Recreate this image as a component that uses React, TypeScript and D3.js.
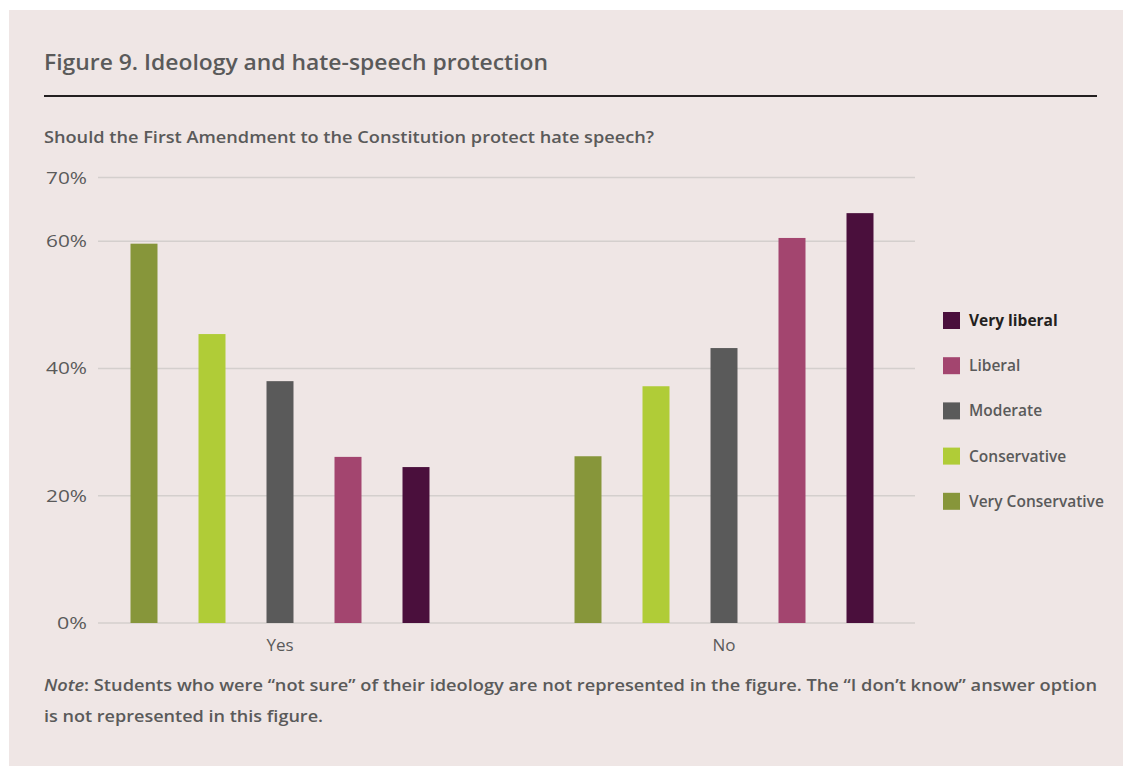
import React from "react";
import * as d3 from "d3";

const answers = ["Yes", "No"];
const ideologies = ["Very Conservative", "Conservative", "Moderate", "Liberal", "Very liberal"];
const colors = ["#87963a", "#b0cc37", "#5a5a5a", "#a3456f", "#4a0f3c"];
const yesValues = [59.6, 45.4, 38.0, 26.1, 24.5];
const noValues = [26.2, 37.2, 43.2, 60.5, 64.4];
const yTicks = [0, 20, 40, 60, 70];
const legendOrder = ["Very liberal", "Liberal", "Moderate", "Conservative", "Very Conservative"];

const W = 1123;
const H = 766;
const FONT = "'Open Sans', 'Noto Sans', sans-serif";

export default function App() {
  const y = d3.scaleLinear().domain([0, 70]).range([623, 177.5]);
  const x0 = d3.scaleBand<string>().domain(answers).range([58, 946]).padding(0);
  const inner = d3
    .scaleBand<string>()
    .domain(ideologies)
    .range([0, 340])
    .paddingInner(0.603)
    .paddingOuter(0.3015);
  const color = d3.scaleOrdinal<string, string>().domain(ideologies).range(colors);
  const series: Record<string, number[]> = { Yes: yesValues, No: noValues };

  const gridX1 = 98;
  const gridX2 = 915;

  return (
    <svg
      width={W}
      height={H}
      style={{ position: "absolute", left: 0, top: 0, display: "block" }}
      fontFamily={FONT}
    >
      <rect x={0} y={0} width={W} height={H} fill="#ffffff" />
      <rect x={9} y={10} width={W - 9} height={H - 10} fill="#efe6e5" />

      <text x={44} y={70} fontSize={22} fontWeight={600} fill="#5a5a5a" textLength={504} lengthAdjust="spacingAndGlyphs">
        Figure 9. Ideology and hate-speech protection
      </text>
      <line x1={44} x2={1097} y1={96} y2={96} stroke="#231f20" strokeWidth={2} />

      <text x={44} y={143} fontSize={16} fontWeight={600} fill="#5a5a5a" textLength={610} lengthAdjust="spacingAndGlyphs">
        Should the First Amendment to the Constitution protect hate speech?
      </text>

      {yTicks.map((t) => (
        <g key={t}>
          <line x1={gridX1} x2={gridX2} y1={y(t)} y2={y(t)} stroke="#d4cfcd" strokeWidth={1.5} />
          <text
            x={87}
            y={y(t) + 6}
            fontSize={17}
            fontWeight={500}
            fill="#5a5a5a"
            textAnchor="end"
            textLength={t === 0 ? 30 : 41}
            lengthAdjust="spacingAndGlyphs"
          >
            {t}%
          </text>
        </g>
      ))}

      {answers.map((a) => {
        const center = (x0(a) as number) + x0.bandwidth() / 2;
        const start = center - 170;
        return (
          <g key={a}>
            {ideologies.map((ideo, i) => (
              <rect
                key={ideo}
                x={start + (inner(ideo) as number)}
                y={y(series[a][i])}
                width={inner.bandwidth()}
                height={y(0) - y(series[a][i])}
                fill={color(ideo)}
              />
            ))}
            <text x={center} y={651} fontSize={17} fill="#5a5a5a" textAnchor="middle">
              {a}
            </text>
          </g>
        );
      })}

      {legendOrder.map((name, i) => (
        <g key={name} transform={`translate(943, ${312 + i * 45.2})`}>
          <rect x={0} y={0} width={17} height={17} fill={color(name)} />
          <text
            x={26}
            y={14}
            fontSize={15.5}
            fontWeight={i === 0 ? 700 : 600}
            fill={i === 0 ? "#231f20" : "#5a5a5a"}
          >
            {name}
          </text>
        </g>
      ))}

      <text x={44} y={691} fontSize={16} fontWeight={600} fill="#5a5a5a" textLength={1053} lengthAdjust="spacingAndGlyphs">
        <tspan fontStyle="italic">Note</tspan>: Students who were “not sure” of their ideology are not represented in the figure. The “I don’t know” answer option
      </text>
      <text x={44} y={722} fontSize={16} fontWeight={600} fill="#5a5a5a" textLength={279} lengthAdjust="spacingAndGlyphs">
        is not represented in this figure.
      </text>
    </svg>
  );
}
